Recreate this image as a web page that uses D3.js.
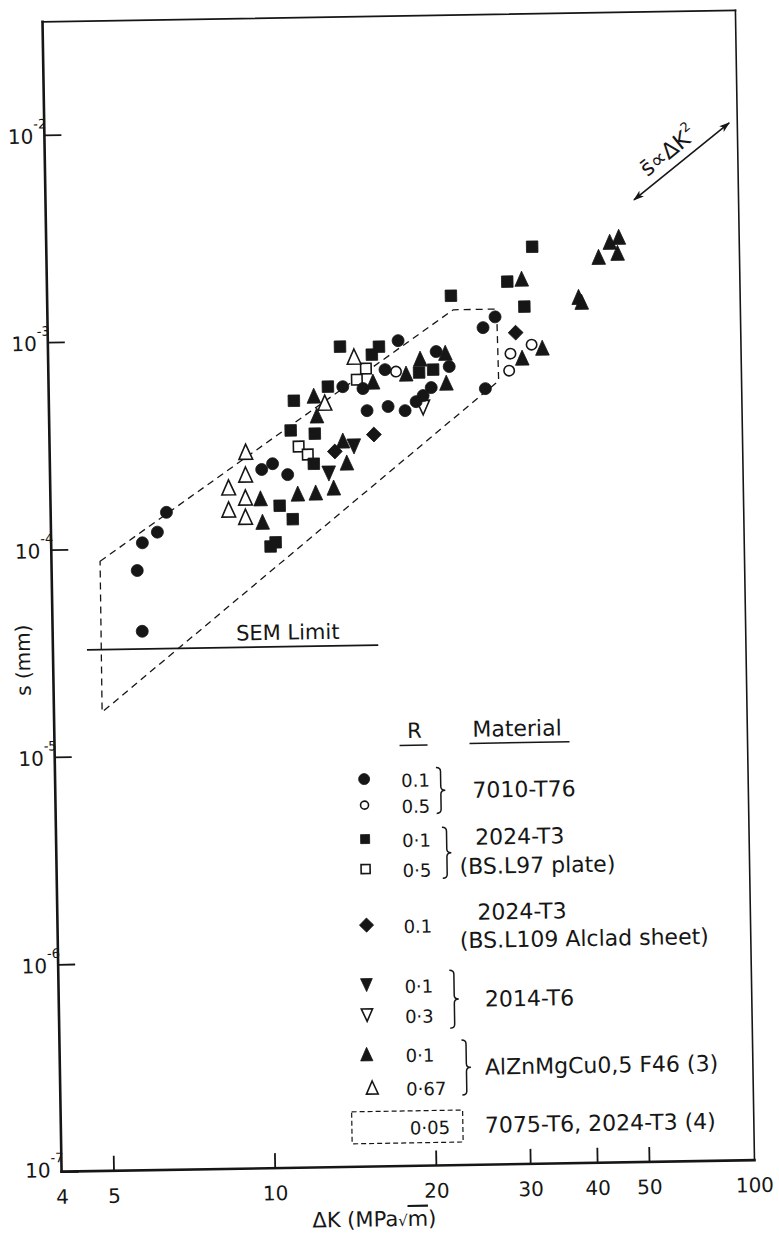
<!DOCTYPE html>
<html>
<head>
<meta charset="utf-8">
<title>Striation spacing vs stress intensity range</title>
<script src="https://cdn.jsdelivr.net/npm/d3@7"></script>
<style>
  body { margin: 0; background: #fff; }
  svg { display: block; background: #fff; }
  text { font-family: "DejaVu Sans", sans-serif; fill: #161616; }
</style>
</head>
<body>
<div id="chart"></div>
<script>
// [ΔK (MPa√m), s (mm)], one array per material / R ratio
var c7010R01 = [[5.88,3.97e-5],[5.78,7.8e-5],[5.92,1.06e-4],[6.32,1.19e-4],[6.58,1.48e-4],
  [9.94,2.34e-4],[10.42,2.49e-4],[11.11,2.20e-4],[14.17,5.78e-4],[15.45,5.64e-4],
  [18.03,9.54e-4],[17.01,6.93e-4],[21.22,8.39e-4],[22.42,7.09e-4],[20.72,5.63e-4],
  [20.0,5.16e-4],[19.40,4.83e-4],[18.49,4.38e-4],[17.19,4.60e-4],[15.70,4.41e-4],
  [27.4,1.22e-3],[26.0,1.085e-3],[26.15,5.51e-4]];
var c7010R05 = [[17.83,6.77e-4],[32.0,8.90e-4],[29.2,8.09e-4],[29.0,6.70e-4]];
var s2024R01 = [[32.3,2.64e-3],[28.95,1.80e-3],[22.7,1.555e-3],[31.1,1.36e-3],[14.04,9.02e-4],
  [16.09,8.21e-4],[16.60,8.95e-4],[13.29,5.80e-4],[11.47,4.99e-4],[19.69,6.67e-4],
  [20.92,6.87e-4],[11.29,3.59e-4],[12.52,3.45e-4],[12.44,2.47e-4],[10.71,1.56e-4],
  [11.32,1.34e-4],[10.27,9.94e-5],[10.50,1.04e-4]];
var s2024R05 = [[15.67,7.04e-4],[15.06,6.23e-4],[11.67,3.00e-4],[12.13,2.74e-4]];
var d2024R01 = [[29.9,1.02e-3],[16.14,3.38e-4],[13.63,2.82e-4]];
var t2014R01 = [[14.80,2.97e-4],[13.26,2.21e-4]];
var t2014R03 = [[19.98,4.52e-4]];
var alR01 = [[42.95,2.33e-3],[45.1,2.75e-3],[46.9,2.90e-3],[46.6,2.43e-3],[39.3,1.50e-3],
  [39.8,1.42e-3],[30.8,1.855e-3],[33.5,8.59e-4],[30.7,7.72e-4],[16.14,6.08e-4],
  [18.62,6.61e-4],[19.80,7.78e-4],[22.07,8.27e-4],[22.12,5.93e-4],[12.50,5.26e-4],
  [12.65,4.22e-4],[14.12,3.18e-4],[14.34,2.49e-4],[13.53,1.89e-4],[12.52,1.795e-4],
  [11.59,1.78e-4],[9.87,1.70e-4],[9.94,1.31e-4]];
var alR067 = [[14.90,8.06e-4],[13.10,4.86e-4],[9.29,2.86e-4],[9.27,2.22e-4],[8.61,1.93e-4],
  [9.25,1.72e-4],[8.60,1.51e-4],[9.24,1.39e-4]];
// scatter band of ref (4), R = 0.05
var bandR005 = [[4.93,8.7e-5],[22.9,1.33e-3],[27.6,1.33e-3],[27.7,6.0e-4],[4.92,1.63e-5]];

var semLimit = 3.26e-5;
var semRange = [4.63, 16.2];
var slopeArrow = [[50.2,4.36e-3],[76.0,1.007e-2]];

var xTickValues = [4, 5, 10, 20, 30, 40, 50];
var xEndLabel = "100";
var yTickValues = [1e-7, 1e-6, 1e-5, 1e-4, 1e-3, 1e-2];

var legendR = ["0.1", "0.5", "0·1", "0·5", "0.1", "0·1", "0·3", "0·1", "0·67"];
var materials = ["7010-T76", "2024-T3", "(BS.L97 plate)", "2024-T3", "(BS.L109 Alclad sheet)",
  "2014-T6", "AlZnMgCu0,5 F46 (3)", "7075-T6, 2024-T3 (4)"];
var bandRLabel = "0·05";

var margin = {top: 16, left: 52},
    width = 693,
    height = 1150;
var tilt = -0.95; // the scanned page is a little skewed

var svg = d3.select("#chart").append("svg")
    .attr("width", 779)
    .attr("height", 1235);

var g = svg.append("g")
    .attr("transform", "rotate(" + tilt + ",398.5,591) translate(" + margin.left + "," + margin.top + ")");

var x = d3.scaleLog().domain([4, 78.7]).range([0, width]);
var y = d3.scaleLog().domain([1e-7, Math.pow(10, -1.455)]).range([height, 0]);

var ink = "#161616";

// marker shapes, sizes in px
function shapePath(shape, s) {
  if (shape === "circle") return d3.symbol(d3.symbolCircle, Math.PI * s * s)();
  if (shape === "square" || shape === "diamond") return d3.symbol(d3.symbolSquare, s * s)();
  var p = d3.path(), w = s * 0.47, h = s * 0.52;
  if (shape === "triUp") { p.moveTo(0, -h); p.lineTo(w, h); p.lineTo(-w, h); }
  else { p.moveTo(0, h); p.lineTo(w, -h); p.lineTo(-w, -h); }
  p.closePath();
  return p.toString();
}

function drawMarker(sel, shape, open, size) {
  sel.append("path")
    .attr("d", shapePath(shape, size))
    .attr("transform", shape === "diamond" ? "rotate(45)" : null)
    .attr("fill", open ? "#fff" : ink)
    .attr("stroke", ink)
    .attr("stroke-width", open ? 1.6 : 0.8);
}

// band of ref (4)
g.append("path")
  .datum(bandR005)
  .attr("d", d3.line().x(function(d) { return x(d[0]); }).y(function(d) { return y(d[1]); }).curve(d3.curveLinearClosed))
  .attr("fill", "none")
  .attr("stroke", ink)
  .attr("stroke-width", 1.3)
  .attr("stroke-dasharray", "7,5");

// SEM resolution limit
g.append("line")
  .attr("x1", x(semRange[0])).attr("x2", x(semRange[1]))
  .attr("y1", y(semLimit)).attr("y2", y(semLimit))
  .attr("stroke", ink).attr("stroke-width", 1.8);
g.append("text")
  .attr("x", x(8.8)).attr("y", y(semLimit) - 7)
  .attr("font-size", 21)
  .text("SEM Limit");

// data points: open markers first, filled drawn over them
var series = [
  {data: c7010R05, shape: "circle", open: true, size: 5.2},
  {data: s2024R05, shape: "square", open: true, size: 10.5},
  {data: t2014R03, shape: "triDown", open: true, size: 14},
  {data: alR067, shape: "triUp", open: true, size: 14.5},
  {data: c7010R01, shape: "circle", open: false, size: 6},
  {data: s2024R01, shape: "square", open: false, size: 11.5},
  {data: d2024R01, shape: "diamond", open: false, size: 10.5},
  {data: t2014R01, shape: "triDown", open: false, size: 14.5},
  {data: alR01, shape: "triUp", open: false, size: 14.5}
];

series.forEach(function(sr) {
  var pts = g.append("g").selectAll("g")
    .data(sr.data)
    .enter().append("g")
      .attr("transform", function(d) { return "translate(" + x(d[0]) + "," + y(d[1]) + ")"; });
  drawMarker(pts, sr.shape, sr.open, sr.size);
});

// slope indicator s ∝ ΔK²
var defs = svg.append("defs");
defs.append("marker")
    .attr("id", "head")
    .attr("viewBox", "0 -5 12 10")
    .attr("refX", 11).attr("refY", 0)
    .attr("markerUnits", "userSpaceOnUse")
    .attr("markerWidth", 13).attr("markerHeight", 9)
    .attr("orient", "auto-start-reverse")
  .append("path")
    .attr("d", "M0,-4L12,0L0,4L3,0Z")
    .attr("fill", ink);

var ax1 = x(slopeArrow[0][0]), ay1 = y(slopeArrow[0][1]),
    ax2 = x(slopeArrow[1][0]), ay2 = y(slopeArrow[1][1]);
g.append("line")
  .attr("x1", ax1).attr("y1", ay1).attr("x2", ax2).attr("y2", ay2)
  .attr("stroke", ink).attr("stroke-width", 1.6)
  .attr("marker-start", "url(#head)")
  .attr("marker-end", "url(#head)");
var ang = Math.atan2(ay2 - ay1, ax2 - ax1) * 180 / Math.PI;
var slopeText = g.append("text")
  .attr("transform", "translate(" + (ax1 + ax2) / 2 + "," + (ay1 + ay2) / 2 + ") rotate(" + ang + ")")
  .attr("x", -4).attr("y", -9)
  .attr("text-anchor", "middle")
  .attr("font-size", 22);
slopeText.append("tspan").text("s\u0304\u221D\u0394K");
slopeText.append("tspan").attr("dy", -11).attr("font-size", 13).text("2");

// axes
var xAxis = g.append("g")
    .attr("transform", "translate(0," + height + ")")
    .attr("color", ink)
    .call(d3.axisBottom(x).tickValues(xTickValues).tickSize(-15).tickPadding(18).tickFormat(d3.format("d")));
xAxis.select(".domain").remove();
xAxis.attr("font-size", null).attr("font-family", null);
xAxis.selectAll(".tick line").attr("stroke-width", 1.8);
xAxis.selectAll(".tick").filter(function(d) { return d === 4; }).select("line").remove();
xAxis.selectAll(".tick text").attr("font-size", 20);
xAxis.append("text")
  .attr("x", width).attr("y", 32)
  .attr("text-anchor", "middle")
  .attr("font-size", 20)
  .text(xEndLabel);

var yAxis = g.append("g")
    .attr("color", ink)
    .call(d3.axisLeft(y).tickValues(yTickValues).tickSize(-17).tickFormat(""));
yAxis.select(".domain").remove();
yAxis.attr("font-size", null).attr("font-family", null);
yAxis.selectAll(".tick line").attr("stroke-width", 1.8);
yAxis.selectAll(".tick text").remove();
yAxis.selectAll(".tick").each(function(d) {
  var lab = d3.select(this).append("text")
    .attr("x", 2).attr("y", d === 1e-7 ? 5 : 8)
    .attr("text-anchor", "end")
    .attr("font-size", 20);
  lab.append("tspan").text("10");
  lab.append("tspan")
    .attr("dy", -15)
    .attr("font-size", 13)
    .text(String(Math.round(Math.log10(d))));
});

// frame
var fr = g.append("g").attr("stroke", ink).attr("stroke-linecap", "square");
fr.append("line").attr("x1", 0).attr("y1", 0).attr("x2", 0).attr("y2", height).attr("stroke-width", 2.6);
fr.append("line").attr("x1", 0).attr("y1", height).attr("x2", width).attr("y2", height).attr("stroke-width", 2.6);
fr.append("line").attr("x1", 0).attr("y1", 0).attr("x2", width).attr("y2", 0).attr("stroke-width", 1.8);
fr.append("line").attr("x1", width).attr("y1", 0).attr("x2", width).attr("y2", height).attr("stroke-width", 1.6);

// axis titles
var xTitle = g.append("text")
  .attr("x", 312).attr("y", height + 60)
  .attr("text-anchor", "middle")
  .attr("font-size", 21);
xTitle.append("tspan").text("\u0394K (MPa");
xTitle.append("tspan").attr("font-size", 15).text("\u221A");
xTitle.append("tspan").style("text-decoration", "overline").text("m");
xTitle.append("tspan").text(")");

g.append("text")
  .attr("transform", "translate(-23,638) rotate(-90)")
  .attr("text-anchor", "middle")
  .attr("font-size", 20)
  .text("s (mm)");

// legend
var lg = g.append("g");
lg.append("text").attr("x", 360).attr("y", 722).attr("text-anchor", "middle").attr("font-size", 21).text("R");
lg.append("line").attr("x1", 345).attr("x2", 373).attr("y1", 729.5).attr("y2", 729.5).attr("stroke", ink).attr("stroke-width", 1.5);
lg.append("text").attr("x", 418).attr("y", 722).attr("font-size", 22).text("Material");
lg.append("line").attr("x1", 415).attr("x2", 515).attr("y1", 728.6).attr("y2", 728.6).attr("stroke", ink).attr("stroke-width", 1.5);

var legendShapes = [
  {shape: "circle", open: false, size: 5.5},
  {shape: "circle", open: true, size: 4},
  {shape: "square", open: false, size: 9},
  {shape: "square", open: true, size: 9},
  {shape: "diamond", open: false, size: 10},
  {shape: "triDown", open: false, size: 12.5},
  {shape: "triDown", open: true, size: 12},
  {shape: "triUp", open: false, size: 13},
  {shape: "triUp", open: true, size: 12.5}
];
var rowBase = [771, 797, 831, 861, 917, 977, 1007, 1046, 1079.5];
var rowMarkX = [309, 309, 309, 309, 309, 308, 308, 307, 312];

legendShapes.forEach(function(ls, i) {
  var m = lg.append("g").attr("transform", "translate(" + rowMarkX[i] + "," + (rowBase[i] - 8.5) + ")");
  drawMarker(m, ls.shape, ls.open, ls.size);
  lg.append("text").attr("x", 346).attr("y", rowBase[i]).attr("font-size", 18).text(legendR[i]);
});

function bracePath(bx, y0, y1, w) {
  var ym = (y0 + y1) / 2, r = 4, p = d3.path();
  p.moveTo(bx, y0);
  p.quadraticCurveTo(bx + w, y0, bx + w, y0 + r);
  p.lineTo(bx + w, ym - r);
  p.quadraticCurveTo(bx + w, ym, bx + 2 * w, ym);
  p.quadraticCurveTo(bx + w, ym, bx + w, ym + r);
  p.lineTo(bx + w, y1 - r);
  p.quadraticCurveTo(bx + w, y1, bx, y1);
  return p.toString();
}
[[381, 752, 798], [386, 812, 863], [391, 955, 1013], [402, 1025, 1080]].forEach(function(b) {
  lg.append("path")
    .attr("d", bracePath(b[0], b[1], b[2], 4.5))
    .attr("fill", "none")
    .attr("stroke", ink)
    .attr("stroke-width", 1.5);
});

var matPos = [[417, 783], [419, 830], [403, 859], [420, 905], [402, 933], [426, 992], [425, 1060], [424, 1118]];
materials.forEach(function(m, i) {
  lg.append("text").attr("x", matPos[i][0]).attr("y", matPos[i][1]).attr("font-size", 22).text(m);
});

lg.append("rect")
  .attr("x", 291).attr("y", 1095).attr("width", 111).attr("height", 32)
  .attr("fill", "none").attr("stroke", ink).attr("stroke-width", 1.2)
  .attr("stroke-dasharray", "5,3");
lg.append("text").attr("x", 349).attr("y", 1118.5).attr("font-size", 18).text(bandRLabel);
</script>
</body>
</html>
